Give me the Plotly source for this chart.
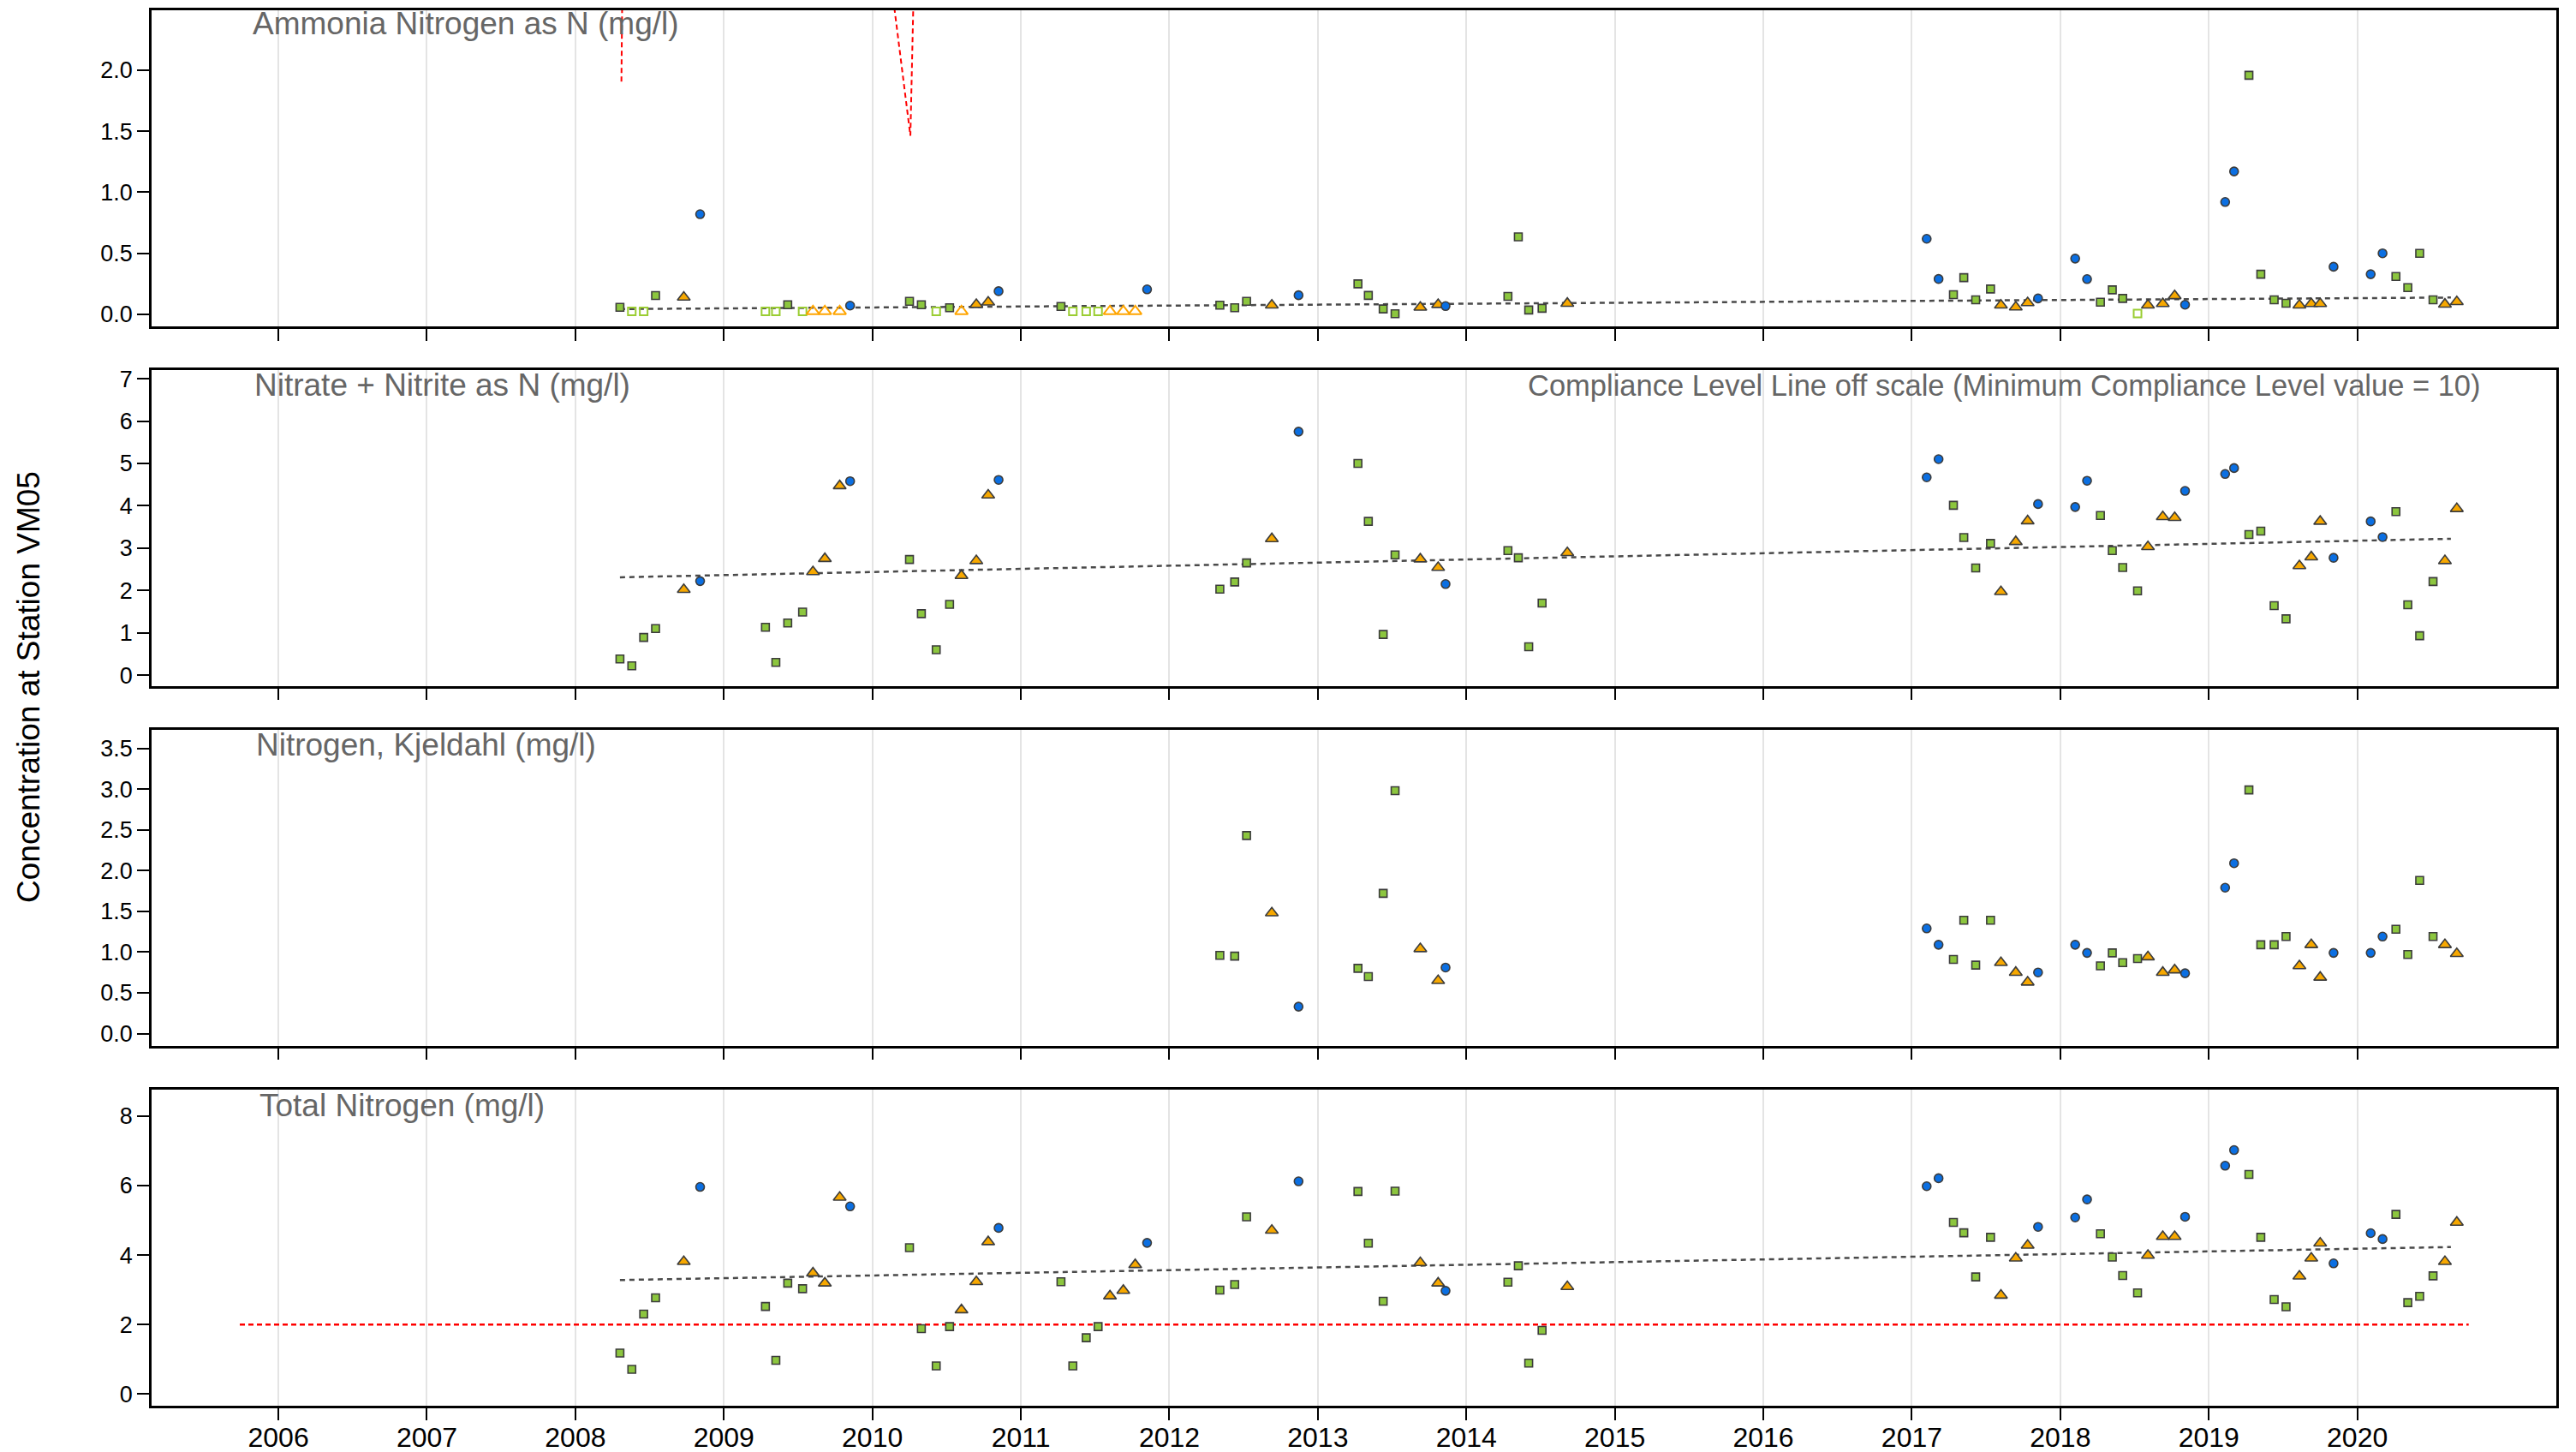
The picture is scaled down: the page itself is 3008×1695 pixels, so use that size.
import plotly.graph_objects as go

# ---------------------------------------------------------------------------
# Sampling record, station VM05 (decimal year of each sample and its season:
# B = winter, G = spring, O = summer/fall)
# ---------------------------------------------------------------------------
sample_dates = [
    2008.30, 2008.38, 2008.46, 2008.54, 2008.73, 2008.84,
    2009.28, 2009.35, 2009.43, 2009.53, 2009.60, 2009.68, 2009.78, 2009.85,
    2010.25, 2010.33, 2010.43, 2010.52, 2010.60, 2010.70, 2010.78, 2010.85,
    2011.27, 2011.35, 2011.44, 2011.52, 2011.60, 2011.69, 2011.77, 2011.85,
    2012.34, 2012.44, 2012.52, 2012.69, 2012.87,
    2013.27, 2013.34, 2013.44, 2013.52, 2013.69, 2013.81, 2013.86,
    2014.28, 2014.35, 2014.42, 2014.51, 2014.68,
    2017.10, 2017.18, 2017.28, 2017.35, 2017.43, 2017.53, 2017.60, 2017.70, 2017.78, 2017.85,
    2018.10, 2018.18, 2018.27, 2018.35, 2018.42, 2018.52, 2018.59, 2018.69, 2018.77, 2018.84,
    2019.11, 2019.17, 2019.27, 2019.35, 2019.44, 2019.52, 2019.61, 2019.69, 2019.75, 2019.84,
    2020.09, 2020.17, 2020.26, 2020.34, 2020.42, 2020.51, 2020.59, 2020.67,
]
sample_season = list(
    "GGGGOB" "GGGGOOOB" "GGGGOOOB" "GGGGOOOB" "GGGOB" "GGGGOOB" "GGGGO"
    "BBGGGGOOOB" "BBGGGGOOOB" "BBGGGGOOOB" "BBGGGGOO"
)

# Ammonia nitrogen as N (mg/l); nh3_nd marks results below detection
nh3_vals = [
    0.058, 0.025, 0.025, 0.154, 0.14, 0.82,
    0.025, 0.025, 0.079, 0.025, 0.025, 0.025, 0.025, 0.072,
    0.107, 0.079, 0.025, 0.054, 0.025, 0.08, 0.10, 0.19,
    0.065, 0.025, 0.025, 0.025, 0.025, 0.025, 0.025, 0.205,
    0.075, 0.055, 0.107, 0.075, 0.157,
    0.25, 0.155, 0.045, 0.005, 0.058, 0.08, 0.068,
    0.147, 0.635, 0.036, 0.05, 0.09,
    0.619, 0.29, 0.161, 0.301, 0.119, 0.208, 0.075, 0.06, 0.095, 0.131,
    0.457, 0.289, 0.10, 0.201, 0.131, 0.007, 0.075, 0.088, 0.152, 0.079,
    0.92, 1.17, 1.957, 0.329, 0.119, 0.091, 0.075, 0.088, 0.088, 0.39,
    0.329, 0.50, 0.31, 0.219, 0.50, 0.119, 0.083, 0.104,
]
nh3_nd = [
    0, 1, 1, 0, 0, 0,
    1, 1, 0, 1, 1, 1, 1, 0,
    0, 0, 1, 0, 1, 0, 0, 0,
    0, 1, 1, 1, 1, 1, 1, 0,
    0, 0, 0, 0, 0,
    0, 0, 0, 0, 0, 0, 0,
    0, 0, 0, 0, 0,
    0, 0, 0, 0, 0, 0, 0, 0, 0, 0,
    0, 0, 0, 0, 0, 1, 0, 0, 0, 0,
    0, 0, 0, 0, 0, 0, 0, 0, 0, 0,
    0, 0, 0, 0, 0, 0, 0, 0,
]

# Nitrate + nitrite as N (mg/l)
no3_vals = [
    0.38, 0.22, 0.89, 1.10, 2.02, 2.22,
    1.13, 0.30, 1.23, 1.49, 2.44, 2.75, 4.47, 4.58,
    2.73, 1.45, 0.60, 1.67, 2.35, 2.70, 4.25, 4.61,
    None, None, None, None, None, None, None, None,
    2.03, 2.20, 2.65, 3.22, 5.75,
    5.00, 3.63, 0.96, 2.84, 2.74, 2.54, 2.15,
    2.94, 2.77, 0.67, 1.70, 2.89,
    4.67, 5.10, 4.01, 3.25, 2.53, 3.11, 1.97, 3.15, 3.64, 4.04,
    3.97, 4.59, 3.77, 2.94, 2.54, 1.99, 3.03, 3.74, 3.72, 4.35,
    4.75, 4.89, 3.32, 3.40, 1.64, 1.33, 2.58, 2.79, 3.63, 2.77,
    3.63, 3.26, 3.86, 1.66, 0.93, 2.21, 2.70, 3.93,
]

# Nitrogen, Kjeldahl (mg/l)
tkn_vals = [
    None, None, None, None, None, None,
    None, None, None, None, None, None, None, None,
    None, None, None, None, None, None, None, None,
    None, None, None, None, None, None, None, None,
    0.96, 0.95, 2.43, 1.48, 0.33,
    0.80, 0.70, 1.72, 2.98, 1.04, 0.65, 0.81,
    None, None, None, None, None,
    1.29, 1.09, 0.91, 1.39, 0.84, 1.39, 0.87, 0.75, 0.63, 0.75,
    1.09, 0.99, 0.83, 0.99, 0.87, 0.92, 0.94, 0.75, 0.78, 0.74,
    1.79, 2.09, 2.99, 1.09, 1.09, 1.19, 0.83, 1.09, 0.69, 0.99,
    0.99, 1.19, 1.28, 0.97, 1.88, 1.19, 1.09, 0.98,
]

# Total nitrogen (mg/l)
tn_vals = [
    1.18, 0.71, 2.30, 2.77, 3.81, 5.96,
    2.52, 0.97, 3.19, 3.03, 3.48, 3.19, 5.66, 5.40,
    4.21, 1.88, 0.81, 1.94, 2.42, 3.23, 4.38, 4.78,
    3.23, 0.81, 1.62, 1.94, 2.82, 2.98, 3.72, 4.35,
    2.99, 3.15, 5.10, 4.71, 6.12,
    5.83, 4.34, 2.67, 5.84, 3.78, 3.19, 2.97,
    3.22, 3.69, 0.89, 1.83, 3.09,
    5.98, 6.21, 4.94, 4.64, 3.37, 4.51, 2.84, 3.91, 4.28, 4.81,
    5.08, 5.60, 4.61, 3.94, 3.41, 2.91, 3.99, 4.53, 4.53, 5.10,
    6.57, 7.02, 6.32, 4.51, 2.72, 2.51, 3.39, 3.91, 4.34, 3.76,
    4.63, 4.46, 5.17, 2.63, 2.81, 3.40, 3.81, 4.94,
]

# Trend lines (start/end year and fitted value)
trend_years = [2008.30, 2020.63]
nh3_trend = [0.044, 0.138]
no3_trend = [2.31, 3.22]
tn_trend = [3.28, 4.23]

# Compliance levels
nh3_crit_years = [2008.31, 2008.39, 2009.86, 2010.256, 2010.34]
nh3_crit_vals = [1.905, 12.0, 5.3, 1.462, 6.0]
tn_crit_years = [2005.74, 2020.75]
tn_crit_vals = [2.0, 2.0]
no3_crit_value = 10

# Panel titles and axis ticks
panel_titles = [
    "Ammonia Nitrogen as N (mg/l)",
    "Nitrate + Nitrite as N (mg/l)",
    "Nitrogen, Kjeldahl (mg/l)",
    "Total Nitrogen (mg/l)",
]
year_ticks = list(range(2006, 2021))
y_ticks = [
    [0.0, 0.5, 1.0, 1.5, 2.0],
    [0, 1, 2, 3, 4, 5, 6, 7],
    [0.0, 0.5, 1.0, 1.5, 2.0, 2.5, 3.0, 3.5],
    [0, 2, 4, 6, 8],
]
y_ranges = [[-0.098, 2.489], [-0.255, 7.21], [-0.149, 3.73], [-0.338, 8.76]]
x_range = [2005.146, 2021.34]
y_title = "Concentration at Station VM05"

# ---------------------------------------------------------------------------
# Styling
# ---------------------------------------------------------------------------
FONT = "Liberation Sans, Arial, sans-serif"
W, H = 3008, 1695
ML, MR, MT, MB = 177, 23, 12, 54
PW, PH = W - ML - MR, H - MT - MB

# panel top/bottom in pixels, and where each panel title sits
panel_px = [(12, 381), (431.7, 800.7), (851.7, 1220.7), (1272, 1641)]
title_left = [293, 295, 297, 301]
title_drop = [16, 18, 18, 18]

season_style = {
    "B": dict(symbol="circle", color="#0b6fe2", size=10),
    "G": dict(symbol="square", color="#8cc63e", size=9),
    "O": dict(symbol="triangle-up", color="#f7a800", size=13),
}
open_style = {
    "G": dict(symbol="square-open", color="#9acd32", size=9),
    "O": dict(symbol="triangle-up-open", color="#ffa500", size=13),
    "B": dict(symbol="circle-open", color="#0b6fe2", size=10),
}
OUTLINE = "#3c3c3c"


def px_x(px):
    return (px - ML) / PW


def px_y(py):
    return (H - MB - py) / PH


fig = go.Figure()


def axis_names(i):
    s = "" if i == 0 else str(i + 1)
    return "x" + s, "y" + s


def add_points(i, vals, nd=None):
    xa, ya = axis_names(i)
    for season in ["G", "O", "B"]:
        for flag in (0, 1):
            xs, ys = [], []
            for k, v in enumerate(vals):
                if v is None or sample_season[k] != season:
                    continue
                f = nd[k] if nd is not None else 0
                if f != flag:
                    continue
                xs.append(sample_dates[k])
                ys.append(v)
            if not xs:
                continue
            if flag == 0:
                st = season_style[season]
                marker = dict(symbol=st["symbol"], size=st["size"], color=st["color"],
                              line=dict(color=OUTLINE, width=1.6))
            else:
                st = open_style[season]
                marker = dict(symbol=st["symbol"], size=st["size"], color=st["color"],
                              line=dict(color=st["color"], width=2))
            fig.add_trace(go.Scatter(x=xs, y=ys, mode="markers", marker=marker,
                                     xaxis=xa, yaxis=ya, showlegend=False,
                                     hoverinfo="x+y"))


def add_line(i, xs, ys, color, dash, width):
    xa, ya = axis_names(i)
    fig.add_trace(go.Scatter(x=xs, y=ys, mode="lines",
                             line=dict(color=color, dash=dash, width=width),
                             xaxis=xa, yaxis=ya, showlegend=False, hoverinfo="skip"))


TREND_DASH = "6px,5px"
CRIT_DASH = "6px,4px"

# Panel 1: ammonia
add_line(0, nh3_crit_years, nh3_crit_vals, "#ff0000", CRIT_DASH, 2)
add_line(0, trend_years, nh3_trend, "#4a4a4a", TREND_DASH, 2.5)
add_points(0, nh3_vals, nh3_nd)

# Panel 2: nitrate + nitrite
add_line(1, trend_years, no3_trend, "#4a4a4a", TREND_DASH, 2.5)
add_points(1, no3_vals)

# Panel 3: Kjeldahl nitrogen
add_points(2, tkn_vals)

# Panel 4: total nitrogen
add_line(3, tn_crit_years, tn_crit_vals, "#ff0000", CRIT_DASH, 2.5)
add_line(3, trend_years, tn_trend, "#4a4a4a", TREND_DASH, 2.5)
add_points(3, tn_vals)

layout = dict(
    width=W, height=H,
    margin=dict(l=ML, r=MR, t=MT, b=MB, pad=0, autoexpand=False),
    paper_bgcolor="white", plot_bgcolor="white",
    font=dict(family=FONT, color="black"),
    showlegend=False,
)

annotations = []
for i in range(4):
    top, bot = panel_px[i]
    xa, ya = axis_names(i)
    xkey = "xaxis" + ("" if i == 0 else str(i + 1))
    ykey = "yaxis" + ("" if i == 0 else str(i + 1))
    layout[xkey] = dict(
        anchor=ya, domain=[0, 1], range=x_range, automargin=False,
        tickmode="array", tickvals=year_ticks, ticktext=[str(t) for t in year_ticks],
        showticklabels=(i == 3), tickfont=dict(size=32, family=FONT, color="black"),
        ticklabelstandoff=-7,
        ticks="outside", ticklen=14, tickwidth=2, tickcolor="black",
        showline=True, linecolor="black", linewidth=2.5, mirror=True,
        showgrid=True, gridcolor="#e4e4e4", gridwidth=2, zeroline=False,
    )
    layout[ykey] = dict(
        anchor=xa, domain=[px_y(bot), px_y(top)], range=y_ranges[i], automargin=False,
        tickmode="array", tickvals=y_ticks[i],
        ticktext=[("%.1f" % v) if isinstance(v, float) else str(v) for v in y_ticks[i]],
        tickfont=dict(size=27, family=FONT, color="black"),
        ticks="outside", ticklen=14, tickwidth=2, tickcolor="black",
        showline=True, linecolor="black", linewidth=2.5, mirror=True,
        showgrid=False, zeroline=False,
    )
    annotations.append(dict(
        text=panel_titles[i], xref="paper", yref="paper",
        x=px_x(title_left[i]), y=px_y(top + title_drop[i]), xanchor="left", yanchor="middle",
        showarrow=False, font=dict(size=37, family=FONT, color="#666666"),
    ))

annotations.append(dict(
    text="Compliance Level Line off scale (Minimum Compliance Level value = %d)" % no3_crit_value,
    xref="paper", yref="paper", x=px_x(2899), y=px_y(panel_px[1][0] + title_drop[1]),
    xanchor="right", yanchor="middle", showarrow=False,
    font=dict(size=34.5, family=FONT, color="#666666"),
))
annotations.append(dict(
    text=y_title, xref="paper", yref="paper", x=px_x(33), y=px_y(802),
    xanchor="center", yanchor="middle", textangle=-90, showarrow=False,
    font=dict(size=37, family=FONT, color="black"),
))
layout["annotations"] = annotations

fig.update_layout(**layout)
fig.write_html("out.html")
